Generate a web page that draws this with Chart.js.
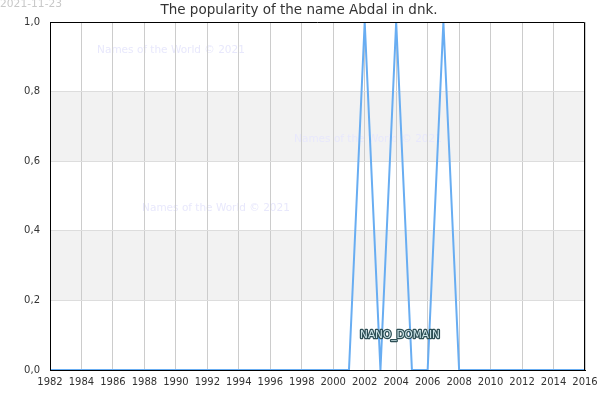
<!DOCTYPE html>
<html><head><meta charset="utf-8">
<script src="https://cdn.jsdelivr.net/npm/chart.js@4"></script>
<style>html,body{margin:0;padding:0;background:#fff}#w{width:600px;height:400px}</style>
</head><body><div id="w"><canvas id="c" width="600" height="400"></canvas></div>
<script>
const years = [1982,1983,1984,1985,1986,1987,1988,1989,1990,1991,1992,1993,1994,1995,1996,1997,1998,1999,2000,2001,2002,2003,2004,2005,2006,2007,2008,2009,2010,2011,2012,2013,2014,2015,2016];
const popularity = [0,0,0,0,0,0,0,0,0,0,0,0,0,0,0,0,0,0,0,0,1,0,1,0,0,1,0,0,0,0,0,0,0,0,0];
const titleText = "The popularity of the name Abdal in dnk.";
const dateText = "2021-11-23";
const watermarkText = "Names of the World © 2021";
const domainText = "NANO_DOMAIN";

const deco = {
  id:'deco',
  beforeDraw(chart){
    const {ctx, chartArea:a, scales:{y}} = chart;
    ctx.save();
    ctx.fillStyle = '#f2f2f2';
    [[0.2,0.4],[0.6,0.8]].forEach(([lo,hi])=>{
      const t = y.getPixelForValue(hi), b = y.getPixelForValue(lo);
      ctx.fillRect(a.left, t, a.right-a.left, b-t);
    });
    ctx.font = '10.5px "DejaVu Sans"';
    ctx.fillStyle = '#e8e8fc';
    ctx.textBaseline = 'middle';
    ctx.textAlign = 'center';
    ctx.fillText(watermarkText, 171, 50);
    ctx.fillText(watermarkText, 368, 139);
    ctx.fillText(watermarkText, 216, 208);
    ctx.restore();
  },
  afterDatasetsDraw(chart){
    const {ctx, chartArea:a} = chart;
    ctx.save();
    ctx.textBaseline = 'middle';
    ctx.textAlign = 'center';
    ctx.font = '10.5px "DejaVu Sans"';
    ctx.lineWidth = 2.5;
    ctx.lineJoin = 'round';
    ctx.strokeStyle = '#2d4f55';
    ctx.strokeText(domainText, 400, 335);
    ctx.fillStyle = '#cfe6ea';
    ctx.fillText(domainText, 400, 335);
    ctx.strokeStyle = '#000';
    ctx.lineWidth = 1;
    ctx.strokeRect(a.left+0.5, a.top+0.5, a.right-a.left-1, a.bottom-a.top);
    ctx.restore();
  },
  afterDraw(chart){
    const {ctx} = chart;
    ctx.save();
    ctx.font = '13.5px "DejaVu Sans"';
    ctx.fillStyle = '#333';
    ctx.textAlign = 'center';
    ctx.textBaseline = 'middle';
    ctx.fillText(titleText, 299, 10);
    ctx.font = '10.7px "DejaVu Sans"';
    ctx.fillStyle = '#c8c8c8';
    ctx.textAlign = 'left';
    ctx.fillText(dateText, 0, 4);
    ctx.restore();
  }
};

new Chart(document.getElementById('c'), {
  type:'line',
  data:{ datasets:[{
    data: years.map((yr,i)=>({x:yr, y:popularity[i]})),
    borderColor:'#68adf2', borderWidth:2, pointRadius:0, tension:0, fill:false
  }]},
  options:{
    responsive:false, animation:false, devicePixelRatio:1,
    layout:{padding:{top:22, right:15, left:0, bottom:0}},
    plugins:{legend:{display:false}, title:{display:false}, tooltip:{enabled:false}},
    scales:{
      x:{type:'linear', min:1982, max:2016,
        afterFit(s){ s.height = 30; s.paddingRight = 0; s.paddingLeft = 0; },
        grid:{color:'#cccccc', drawTicks:false},
        border:{display:true, color:'#000', width:1},
        ticks:{stepSize:2, autoSkip:false, maxRotation:0, padding:6, color:'#333', font:{family:'DejaVu Sans', size:10},
          callback:v=>String(v)}
      },
      y:{min:0, max:1,
        afterFit(s){ s.width = 50; s.paddingTop = 0; s.paddingBottom = 0; },
        grid:{color:'#dddddd', drawTicks:false},
        border:{display:true, color:'#000', width:1},
        ticks:{stepSize:0.2, padding:10, color:'#333', font:{family:'DejaVu Sans', size:10},
          callback:v=>v.toFixed(1).replace('.',',')}
      }
    }
  },
  plugins:[deco]
});
</script></body></html>
